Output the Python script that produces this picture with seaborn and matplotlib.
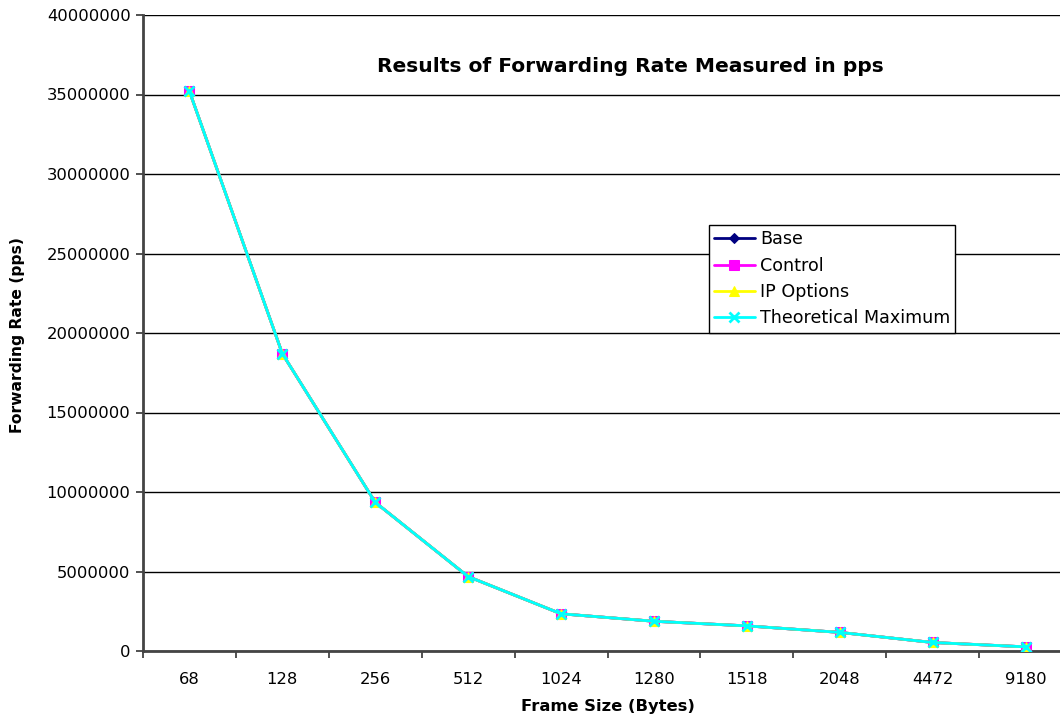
import numpy as np
import pandas as pd
import matplotlib
matplotlib.use("Agg")
import matplotlib.pyplot as plt
from matplotlib.ticker import FuncFormatter, FixedLocator
import seaborn as sns

# Frame sizes tested (bytes) and measured forwarding rates (packets per second)
frame_sizes = ["68", "128", "256", "512", "1024", "1280", "1518", "2048", "4472", "9180"]
base = [35200000, 18700000, 9350000, 4680000, 2340000, 1870000, 1580000, 1170000, 535000, 261000]
control = [35200000, 18700000, 9350000, 4680000, 2340000, 1870000, 1580000, 1170000, 535000, 261000]
ip_options = [35200000, 18700000, 9350000, 4680000, 2340000, 1870000, 1580000, 1170000, 535000, 261000]
theoretical_max = [35200000, 18700000, 9350000, 4680000, 2340000, 1870000, 1580000, 1170000, 535000, 261000]

series_names = ["Base", "Control", "IP Options", "Theoretical Maximum"]
series_values = [base, control, ip_options, theoretical_max]
series_colors = ["#000080", "#FF00FF", "#FFFF00", "#00FFFF"]
series_markers = ["D", "s", "^", "x"]
marker_sizes = [5.5, 7, 7, 7.5]

sns.set_style("white")
plt.rcParams["font.family"] = ["DejaVu Sans"]
plt.rcParams["text.color"] = "black"
plt.rcParams["axes.labelcolor"] = "black"
plt.rcParams["xtick.color"] = "black"
plt.rcParams["ytick.color"] = "black"

W, H = 1060, 723
fig = plt.figure(figsize=(W / 100, H / 100), dpi=100)
fig.patch.set_facecolor("white")

# plot area in pixel coordinates (right edge runs past the figure edge)
left_px, right_px, top_px, bottom_px = 143, 1072, 15, 651
ax = fig.add_axes([left_px / W, 1 - bottom_px / H,
                   (right_px - left_px) / W, (bottom_px - top_px) / H])
ax.set_facecolor("white")

positions = np.arange(len(frame_sizes))
for name, vals, col, mk, ms in zip(series_names, series_values, series_colors,
                                   series_markers, marker_sizes):
    df = pd.DataFrame({"pos": positions, "rate": vals})
    kw = dict(markersize=ms, markeredgecolor=col, markerfacecolor=col)
    if mk == "x":
        kw.update(markeredgewidth=2)
    sns.lineplot(data=df, x="pos", y="rate", ax=ax, color=col, marker=mk,
                 linewidth=2, label=name, zorder=3, **kw)

ax.set_xlim(-0.5, len(frame_sizes) - 0.5)
ax.set_ylim(0, 40000000)
ax.set_yticks(np.arange(0, 40000001, 5000000))
ax.yaxis.set_major_formatter(FuncFormatter(lambda v, p: f"{int(v)}"))

ax.xaxis.set_major_locator(FixedLocator(positions))
ax.set_xticklabels(frame_sizes)
ax.xaxis.set_minor_locator(FixedLocator(np.arange(-0.5, len(frame_sizes), 1.0)))

ax.tick_params(axis="x", which="major", length=0, pad=15, labelsize=11.8, labelcolor="black")
ax.tick_params(axis="x", which="minor", length=5, width=1.2, color="#333333", direction="out")
ax.tick_params(axis="y", which="major", length=5, width=1.2, color="#333333",
               pad=4, labelsize=11.8, labelcolor="black", direction="out")
ax.tick_params(bottom=True, left=True, which="both")

ax.grid(axis="y", color="black", linewidth=1.0)
ax.grid(axis="x", visible=False)
ax.set_axisbelow(True)

for side in ["top", "right"]:
    ax.spines[side].set_visible(False)
for side in ["left", "bottom"]:
    ax.spines[side].set_color("#444444")
    ax.spines[side].set_linewidth(2)

ax.set_xlabel("Frame Size (Bytes)", fontsize=11.8, fontweight="bold", color="black")
ax.set_ylabel("Forwarding Rate (pps)", fontsize=11.2, fontweight="bold", color="black")
ax.xaxis.set_label_coords((608 - left_px) / (right_px - left_px), (bottom_px - 707) / (bottom_px - top_px))
ax.xaxis.label.set_va("center")
ax.yaxis.set_label_coords((18 - left_px) / (right_px - left_px), (bottom_px - 335) / (bottom_px - top_px))
ax.yaxis.label.set_va("center")

ax.text((630 - left_px) / (right_px - left_px), (bottom_px - 67) / (bottom_px - top_px),
        "Results of Forwarding Rate Measured in pps", transform=ax.transAxes,
        ha="center", va="center", fontsize=14.6, fontweight="bold", color="black")

leg = ax.legend(loc="upper left", bbox_to_anchor=(709 / W, 1 - 225 / H),
                bbox_transform=fig.transFigure, borderaxespad=0, frameon=True,
                fancybox=False, edgecolor="black", framealpha=1,
                fontsize=12.6, handlelength=2.3, handletextpad=0.3,
                labelspacing=0.48, borderpad=0.3)
leg.get_frame().set_linewidth(1.0)
for t in leg.get_texts():
    t.set_color("black")

fig.savefig("out.png", dpi=100, facecolor="white")
